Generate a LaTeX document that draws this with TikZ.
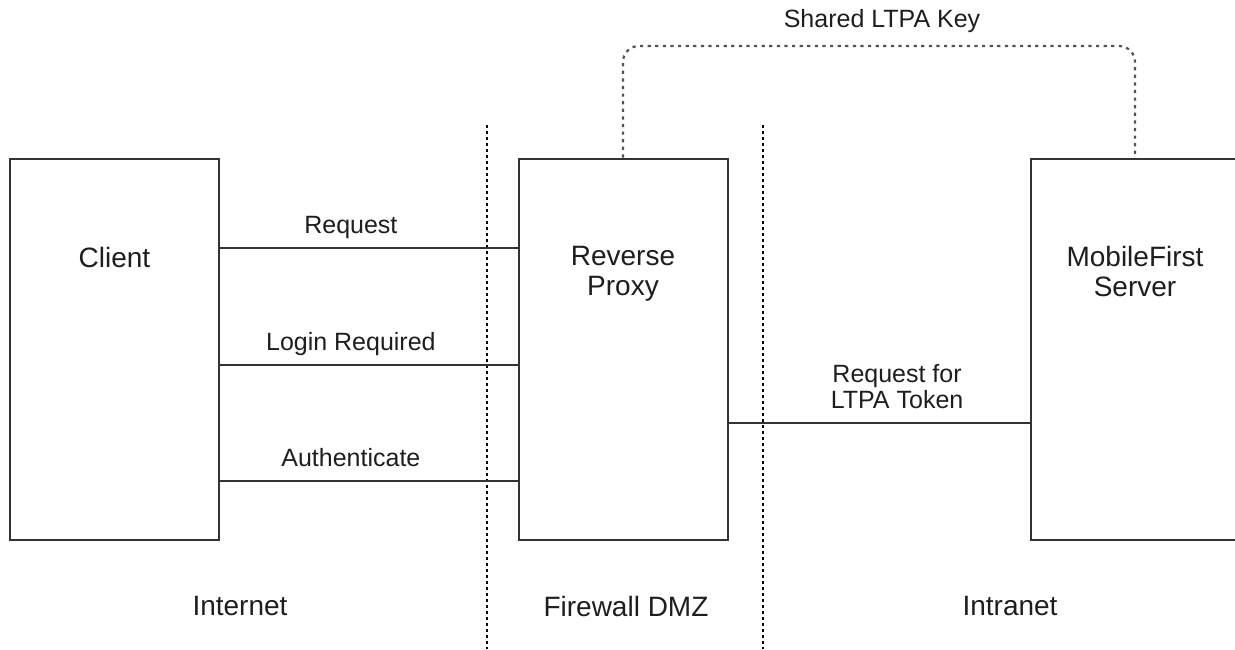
\documentclass[tikz,border=0pt]{standalone}
\usepackage{fontspec}
\setmainfont{Liberation Sans}
\usetikzlibrary{positioning}
\definecolor{linecol}{RGB}{51,51,51}
\definecolor{textcol}{RGB}{30,30,30}

\begin{document}
\begin{tikzpicture}[
  x=0.5pt, y=-0.5pt,
  every node/.style={text=textcol},
  box/.style={draw=linecol, line width=1pt, minimum width=104.5pt, minimum height=190.5pt, inner sep=0pt},
  boxtext/.style={font=\fontsize{14}{15}\selectfont, align=center},
  zonetext/.style={font=\fontsize{14}{15}\selectfont},
  edgetext/.style={font=\fontsize{12.5}{11.5}\selectfont, align=center, inner sep=2pt, text depth=2.5pt, above=2.5pt},
  link/.style={draw=linecol, line width=0.75pt},
  keyline/.style={draw=linecol!85, line width=1.1pt, dash pattern=on 1.6pt off 2.2pt, rounded corners=8pt},
  divider/.style={draw=black, line width=0.7pt, dash pattern=on 1.5pt off 1.5pt}
]
\useasboundingbox (0,0) rectangle (1235,649);

% =================== boxes ===================
\node[box] (client) at (114.5,349.5) {};
\node[box] (proxy) at (623,349) {};
\node[box] (mobile) at (1135,349) {};

\node[boxtext, below=41pt of client.north] (clientlbl) {Client};
\node[boxtext, below=41pt of proxy.north] (proxylbl) {Reverse\\Proxy};
\node[boxtext, below=41pt of mobile.north] (mobilelbl) {MobileFirst\\Server};

% =================== zone dividers ===================
\coordinate (dmztop) at (487,125);
\coordinate (dmzbot) at (487,649);
\coordinate (intratop) at (763,125);
\coordinate (intrabot) at (763,649);
\draw[divider] (dmztop) -- (dmzbot);
\draw[divider] (intratop) -- (intrabot);

\node[zonetext] (internet) at (240,606) {Internet};
\node[zonetext] (dmz) at (626,606) {Firewall DMZ};
\node[zonetext] (intranet) at (1010,606) {Intranet};

% =================== connectors ===================
\draw[link] (client.east |- 0,248) -- node[edgetext, pos=0.44] (reqlbl) {Request} (proxy.west |- 0,248);
\draw[link] (client.east |- 0,365) -- node[edgetext, pos=0.44] (loginlbl) {Login Required} (proxy.west |- 0,365);
\draw[link] (client.east |- 0,481) -- node[edgetext, pos=0.44] (authlbl) {Authenticate} (proxy.west |- 0,481);
\draw[link] (proxy.east |- 0,423) -- node[edgetext, pos=0.56] (tokenlbl) {Request for\\LTPA Token} (mobile.west |- 0,423);

% shared key between proxy and server
\coordinate (keytop) at (880,46);
\draw[keyline] (proxy.north) |- (keytop) -| (mobile.north);
\node[font=\fontsize{12.5}{12}\selectfont, anchor=base] (keylbl) at (882,27) {Shared LTPA Key};

\end{tikzpicture}
\end{document}
